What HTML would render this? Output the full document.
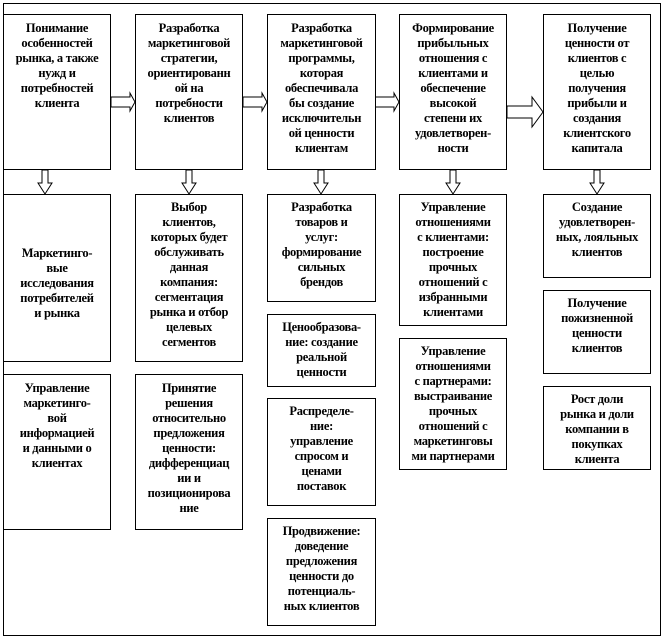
<!DOCTYPE html>
<html><head><meta charset="utf-8"><style>
body{margin:0;width:664px;height:639px;background:#fff;position:relative;overflow:hidden;font-family:"Liberation Serif","DejaVu Serif",serif;}
.b{position:absolute;border:1.5px solid #000;box-sizing:border-box;background:#fff;text-align:center;font-weight:bold;font-size:12.5px;line-height:15px;padding-top:5px;white-space:nowrap;letter-spacing:-0.3px;}
#o{position:absolute;left:3px;top:3px;width:658px;height:633px;border:1.5px solid #000;box-sizing:border-box;}
svg{position:absolute;left:0;top:0;}
</style></head><body>
<div id="o"></div>
<svg width="664" height="639">
<g fill="#fff" stroke="#000" stroke-width="1">
<polygon points="111,97 130,97 130,93 135,102 130,111 130,107 111,107"/>
<polygon points="243,97 262,97 262,93 267,102 262,111 262,107 243,107"/>
<polygon points="375,97 394,97 394,93 399,102 394,111 394,107 375,107"/>
<polygon points="507,106 532,106 532,97 543,112 532,127 532,118 507,118"/>
<polygon points="42,170 48,170 48,183 52,183 45,194 38,183 42,183"/>
<polygon points="186,170 192,170 192,183 196,183 189,194 182,183 186,183"/>
<polygon points="318,170 324,170 324,183 328,183 321,194 314,183 318,183"/>
<polygon points="450,170 456,170 456,183 460,183 453,194 446,183 450,183"/>
<polygon points="594,170 600,170 600,183 604,183 597,194 590,183 594,183"/>
</g></svg>
<div class="b" style="left:3px;top:14px;width:108px;height:156px;padding-top:6px">Понимание<br>особенностей<br>рынка, а также<br>нужд и<br>потребностей<br>клиента</div>
<div class="b" style="left:135px;top:14px;width:108px;height:156px;padding-top:6px">Разработка<br>маркетинговой<br>стратегии,<br>ориентированн<br>ой на<br>потребности<br>клиентов</div>
<div class="b" style="left:267px;top:14px;width:109px;height:156px;padding-top:6px">Разработка<br>маркетинговой<br>программы,<br>которая<br>обеспечивала<br>бы создание<br>исключительн<br>ой ценности<br>клиентам</div>
<div class="b" style="left:399px;top:14px;width:108px;height:156px;padding-top:6px">Формирование<br>прибыльных<br>отношения с<br>клиентами и<br>обеспечение<br>высокой<br>степени их<br>удовлетворен-<br>ности</div>
<div class="b" style="left:543px;top:14px;width:108px;height:156px;padding-top:6px">Получение<br>ценности от<br>клиентов с<br>целью<br>получения<br>прибыли и<br>создания<br>клиентского<br>капитала</div>

<div class="b" style="left:3px;top:194px;width:108px;height:168px;padding-top:51px">Маркетинго-<br>вые<br>исследования<br>потребителей<br>и рынка</div>
<div class="b" style="left:3px;top:374px;width:108px;height:156px;padding-top:6px">Управление<br>маркетинго-<br>вой<br>информацией<br>и данными о<br>клиентах</div>
<div class="b" style="left:135px;top:194px;width:108px;height:168px;padding-top:5px">Выбор<br>клиентов,<br>которых будет<br>обслуживать<br>данная<br>компания:<br>сегментация<br>рынка и отбор<br>целевых<br>сегментов</div>
<div class="b" style="left:135px;top:374px;width:108px;height:156px;padding-top:6px">Принятие<br>решения<br>относительно<br>предложения<br>ценности:<br>дифференциац<br>ии и<br>позиционирова<br>ние</div>
<div class="b" style="left:267px;top:194px;width:109px;height:108px;padding-top:5px">Разработка<br>товаров и<br>услуг:<br>формирование<br>сильных<br>брендов</div>
<div class="b" style="left:267px;top:314px;width:109px;height:73px;padding-top:5px">Ценообразова-<br>ние: создание<br>реальной<br>ценности</div>
<div class="b" style="left:267px;top:398px;width:109px;height:108px;padding-top:5px">Распределе-<br>ние:<br>управление<br>спросом и<br>ценами<br>поставок</div>
<div class="b" style="left:267px;top:518px;width:109px;height:108px;padding-top:5px">Продвижение:<br>доведение<br>предложения<br>ценности до<br>потенциаль-<br>ных клиентов</div>
<div class="b" style="left:399px;top:194px;width:108px;height:132px;padding-top:5px">Управление<br>отношениями<br>с клиентами:<br>построение<br>прочных<br>отношений с<br>избранными<br>клиентами</div>
<div class="b" style="left:399px;top:338px;width:108px;height:132px;padding-top:5px">Управление<br>отношениями<br>с партнерами:<br>выстраивание<br>прочных<br>отношений с<br>маркетинговы<br>ми партнерами</div>
<div class="b" style="left:543px;top:194px;width:108px;height:84px;padding-top:5px">Создание<br>удовлетворен-<br>ных, лояльных<br>клиентов</div>
<div class="b" style="left:543px;top:290px;width:108px;height:84px;padding-top:5px">Получение<br>пожизненной<br>ценности<br>клиентов</div>
<div class="b" style="left:543px;top:386px;width:108px;height:84px;padding-top:5px">Рост доли<br>рынка и доли<br>компании в<br>покупках<br>клиента</div>
</body></html>
